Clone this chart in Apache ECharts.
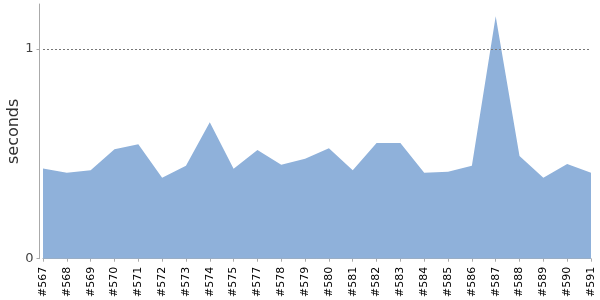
<!DOCTYPE html>
<html><head><meta charset="utf-8">
<script src="https://cdn.jsdelivr.net/npm/echarts@6/dist/echarts.min.js"></script>
<style>html,body{margin:0;padding:0;background:#fff}#c{width:600px;height:300px}</style>
</head><body><div id="c"></div>
<script>
const categories = ['#567','#568','#569','#570','#571','#572','#573','#574','#575','#577','#578','#579','#580','#581','#582','#583','#584','#585','#586','#587','#588','#589','#590','#591'];
const seconds = [0.430,0.410,0.422,0.522,0.545,0.386,0.443,0.650,0.429,0.518,0.448,0.476,0.527,0.422,0.551,0.551,0.410,0.414,0.443,1.156,0.489,0.386,0.451,0.410];
const yTickValues = [0, 1];
const yMax = 1.214;

const chart = echarts.init(document.getElementById('c'), null, {renderer:'canvas'});
chart.setOption({
  animation:false,
  grid:{left:43, right:9, top:4, bottom:41.3, containLabel:false, outerBoundsMode:'none'},
  xAxis:{type:'category', data:categories, boundaryGap:false, offset:4,
    axisLine:{lineStyle:{color:'#aaaaaa'}},
    axisTick:{alignWithLabel:true, length:3, lineStyle:{color:'#aaaaaa'}},
    axisLabel:{rotate:90, interval:0, fontFamily:'DejaVu Sans', fontSize:11, color:'#000', margin:4}
  },
  yAxis:{type:'value', min:0, max:yMax, offset:3.5,
    name:'seconds', nameLocation:'middle', nameGap:18, nameMoveOverlap:false,
    nameTextStyle:{fontFamily:'DejaVu Sans', fontSize:16, color:'#333'},
    axisLine:{show:true, lineStyle:{color:'#aaaaaa'}},
    axisTick:{show:true, length:3, customValues:yTickValues, lineStyle:{color:'#aaaaaa'}},
    axisLabel:{customValues:yTickValues, fontFamily:'DejaVu Sans', fontSize:13, color:'#444', margin:6, padding:[3,0,0,0]},
    splitLine:{show:false}
  },
  series:[{type:'line', data:seconds, symbol:'none', smooth:false,
    lineStyle:{width:0}, areaStyle:{color:'#8fb1da', opacity:1},
    markLine:{silent:true, symbol:'none', label:{show:false},
      lineStyle:{color:'#777', type:[2,2], width:1},
      data:[{yAxis:1}]}
  }]
});
</script></body></html>
